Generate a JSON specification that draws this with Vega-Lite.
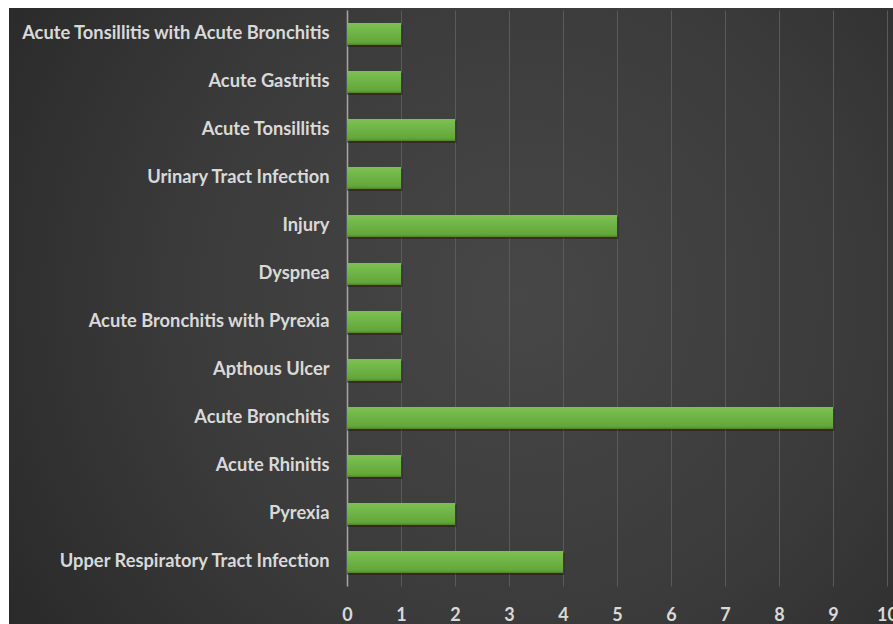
{
  "$schema": "https://vega.github.io/schema/vega-lite/v6.json",
  "width": 884,
  "height": 616,
  "autosize": {"type": "none"},
  "padding": {"left": 9, "top": 8, "right": 0, "bottom": 0},
  "background": "#ffffff",
  "config": {
    "view": {
      "stroke": null,
      "fill": {
        "gradient": "radial",
        "x1": 0.58, "y1": 0.48, "r1": 0,
        "x2": 0.58, "y2": 0.48, "r2": 0.75,
        "stops": [
          {"offset": 0, "color": "#474747"},
          {"offset": 0.5, "color": "#3b3b3b"},
          {"offset": 1, "color": "#262626"}
        ]
      }
    }
  },
  "data": {
    "values": [
      {"diagnosis": "Acute Tonsillitis with Acute Bronchitis", "count": 1},
      {"diagnosis": "Acute Gastritis", "count": 1},
      {"diagnosis": "Acute Tonsillitis", "count": 2},
      {"diagnosis": "Urinary Tract Infection", "count": 1},
      {"diagnosis": "Injury", "count": 5},
      {"diagnosis": "Dyspnea", "count": 1},
      {"diagnosis": "Acute Bronchitis with Pyrexia", "count": 1},
      {"diagnosis": "Apthous Ulcer", "count": 1},
      {"diagnosis": "Acute Bronchitis", "count": 9},
      {"diagnosis": "Acute Rhinitis", "count": 1},
      {"diagnosis": "Pyrexia", "count": 2},
      {"diagnosis": "Upper Respiratory Tract Infection", "count": 4}
    ]
  },
  "encoding": {
    "y": {
      "field": "diagnosis",
      "type": "nominal",
      "sort": null,
      "scale": {"range": [2, 578], "paddingInner": 0.545, "paddingOuter": 0.2727},
      "axis": {
        "title": null,
        "offset": -338,
        "ticks": false,
        "grid": false,
        "domainColor": "#a6a6a6",
        "domainWidth": 1.5,
        "labelFont": "Lato",
        "labelFontWeight": "bold",
        "labelFontSize": 18.3,
        "labelColor": "#d9d9d9",
        "labelPadding": 18,
        "labelLimit": 0
      }
    },
    "x": {
      "field": "count",
      "type": "quantitative",
      "scale": {"domain": [-6.259, 10.111], "nice": false, "zero": false},
      "axis": {
        "title": null,
        "orient": "top",
        "values": [0, 1, 2, 3, 4, 5, 6, 7, 8, 9, 10],
        "offset": -607,
        "grid": true,
        "gridColor": "#5a5a5a",
        "gridWidth": 1,
        "domain": false,
        "ticks": false,
        "labelFont": "Lato",
        "labelFontWeight": "bold",
        "labelFontSize": 18,
        "labelColor": "#d9d9d9",
        "labelBaseline": "middle",
        "labelPadding": 0,
        "labelFlush": false,
        "labelOverlap": false
      }
    },
    "x2": {"datum": 0}
  },
  "layer": [
    {
      "mark": {"type": "bar", "color": "#141414", "opacity": 0.4, "yOffset": 2, "xOffset": 1.5}
    },
    {
      "mark": {
        "type": "bar",
        "color": {
          "gradient": "linear",
          "x1": 0, "y1": 0, "x2": 0, "y2": 1,
          "stops": [
            {"offset": 0, "color": "#7dc150"},
            {"offset": 0.88, "color": "#63a73b"},
            {"offset": 1, "color": "#4c872c"}
          ]
        }
      }
    }
  ]
}
